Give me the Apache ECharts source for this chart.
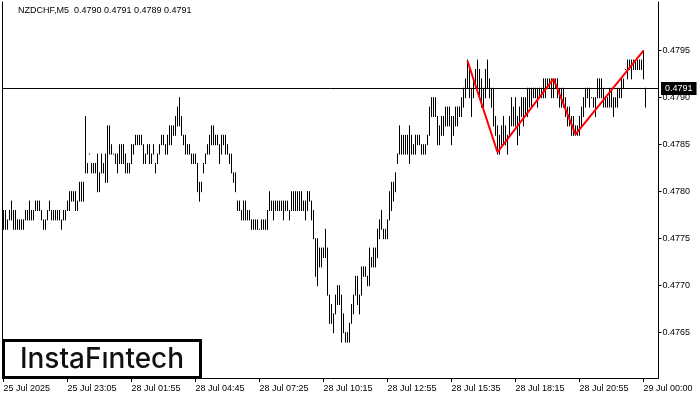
<!DOCTYPE html>
<html><head><meta charset="utf-8">
<script src="https://cdn.jsdelivr.net/npm/echarts@6/dist/echarts.min.js"></script>
<style>html,body{margin:0;padding:0;background:#fff}#c{width:700px;height:400px}</style>
</head><body><div id="c"></div>
<script>
const symbolName = 'NZDCHF,M5';
const lastOHLC = [0.4790, 0.4791, 0.4789, 0.4791];
const lastPrice = 0.4791;
const tickLabels = ['25 Jul 2025','25 Jul 23:05','28 Jul 01:55','28 Jul 04:45','28 Jul 07:25','28 Jul 10:15','28 Jul 12:55','28 Jul 15:35','28 Jul 18:15','28 Jul 20:55','29 Jul 00:00'];
const tickStep = 32;
const slotCount = 328;
const priceTicks = [0.4765, 0.4770, 0.4775, 0.4780, 0.4785, 0.4790, 0.4795];
const axisMin = 0.476018, axisMax = 0.480018;

const barLow = [
0.4776,0.4776,0.4776,0.4777,0.4777,0.4776,0.4776,0.4776,0.4776,0.4776,
0.4776,0.4777,0.4777,0.4777,0.4777,0.4777,0.4778,0.4778,0.4778,0.4777,
0.4776,0.4776,0.4777,0.4778,0.4777,0.4777,0.4777,0.4777,0.4777,0.4776,
0.4777,0.4777,0.4778,0.4778,0.4779,0.4779,0.4778,0.4778,0.4779,0.4779,
0.4779,
0.4782,0.4782,0.4784,0.4782,0.4782,0.4782,0.4780,0.4780,0.4782,0.4782,
0.4781,0.4781,0.4784,0.4784,0.4784,0.4783,0.4782,0.4783,0.4783,0.4783,
0.4782,0.4782,0.4782,0.4783,0.4784,0.4785,0.4785,0.4785,0.4785,0.4783,
0.4783,0.4784,0.4783,0.4783,0.4784,0.4782,0.4783,0.4784,0.4785,0.4785,
0.4784,0.4784,0.4785,0.4785,0.4786,0.4786,0.4787,0.4787,0.4786,0.4785,
0.4784,0.4784,0.4784,0.4783,0.4783,0.4783,0.4780,0.4779,0.4780,0.4782,
0.4783,0.4784,0.4784,0.4785,0.4785,0.4785,0.4785,0.4783,0.4784,0.4785,
0.4784,0.4784,0.4783,0.4782,0.4781,0.4780,0.4778,0.4778,0.4777,0.4777,
0.4777,0.4777,0.4777,0.4776,0.4776,0.4776,0.4776,0.4776,0.4776,0.4776,
0.4776,0.4776,0.4778,0.4778,0.4777,0.4778,0.4778,0.4778,0.4778,0.4777,
0.4778,0.4778,0.4777,0.4778,0.4778,0.4778,0.4778,0.4778,0.4778,0.4778,
0.4777,0.4778,0.4779,0.4777,0.4775,0.4771,0.4770,0.4772,0.4772,0.4773,
0.4773,0.4769,0.4766,0.4766,0.4765,0.4767,0.4768,0.4768,0.4764,0.4765,
0.4764,0.4764,0.4764,0.4766,0.4767,0.4769,0.4768,0.4767,0.4769,0.4771,
0.4771,0.4770,0.4770,0.4772,0.4772,0.4772,0.4773,0.4775,0.4776,0.4775,
0.4775,0.4775,0.4777,0.4778,0.4779,0.4780,0.4783,0.4784,0.4784,0.4784,
0.4784,0.4784,0.4783,0.4784,0.4784,0.4784,0.4785,0.4785,0.4784,0.4784,
0.4784,0.4785,0.4786,0.4788,0.4788,0.4788,0.4785,0.4785,0.4786,0.4786,
0.4787,0.4787,0.4787,0.4785,0.4786,0.4787,0.4787,0.4788,0.4788,0.4789,
0.4790,0.4791,0.4790,0.4788,0.4790,0.4791,0.4791,0.4790,0.4789,0.4789,
0.4790,0.4791,0.4790,0.4789,0.4787,0.4786,0.4784,0.4784,0.4785,0.4785,
0.4785,0.4784,0.4786,0.4787,0.4787,0.4787,0.4785,0.4786,0.4788,0.4787,
0.4788,0.4788,0.4789,0.4789,0.4790,0.4790,0.4789,0.4790,0.4790,0.4790,
0.4790,0.4791,0.4791,0.4790,0.4790,0.4791,0.4790,0.4789,0.4789,0.4789,
0.4788,0.4787,0.4787,0.4786,0.4786,0.4786,0.4786,0.4786,0.4787,0.4788,
0.4789,0.4790,0.4789,0.4790,0.4789,0.4788,0.4790,0.4790,0.4790,0.4789,
0.4789,0.4789,0.4789,0.4789,0.4788,0.4789,0.4789,0.4790,0.4790,0.4791,
0.4793,0.4792,0.4793,0.4792,0.4793,0.4793,0.4793,0.4793,0.4793,0.4792,
0.4789
];
const barHigh = [
0.4778,0.4778,0.4777,0.4778,0.4779,0.4778,0.4778,0.4777,0.4777,0.4777,
0.4777,0.4778,0.4778,0.4779,0.4778,0.4778,0.4779,0.4779,0.4779,0.4778,
0.4777,0.4777,0.4778,0.4779,0.4778,0.4778,0.4778,0.4778,0.4778,0.4777,
0.4778,0.4778,0.4779,0.4780,0.4780,0.4780,0.4780,0.4779,0.4781,0.4781,
0.4781,
0.4788,0.4783,0.4784,0.4783,0.4783,0.4783,0.4784,0.4782,0.4784,0.4783,
0.4784,0.4787,0.4787,0.4785,0.4784,0.4784,0.4784,0.4785,0.4785,0.4785,
0.4784,0.4783,0.4783,0.4785,0.4785,0.4786,0.4786,0.4786,0.4786,0.4785,
0.4784,0.4785,0.4785,0.4784,0.4785,0.4783,0.4784,0.4785,0.4786,0.4786,
0.4785,0.4786,0.4787,0.4787,0.4787,0.4788,0.4789,0.4790,0.4788,0.4786,
0.4786,0.4785,0.4785,0.4784,0.4784,0.4784,0.4783,0.4781,0.4781,0.4783,
0.4784,0.4785,0.4786,0.4787,0.4787,0.4786,0.4786,0.4785,0.4786,0.4786,
0.4786,0.4785,0.4784,0.4784,0.4782,0.4782,0.4779,0.4779,0.4778,0.4779,
0.4779,0.4778,0.4778,0.4777,0.4777,0.4777,0.4777,0.4776,0.4777,0.4777,
0.4777,0.4778,0.4780,0.4779,0.4779,0.4779,0.4779,0.4779,0.4779,0.4779,
0.4779,0.4779,0.4778,0.4780,0.4780,0.4780,0.4780,0.4780,0.4780,0.4779,
0.4779,0.4780,0.4780,0.4779,0.4778,0.4775,0.4775,0.4774,0.4774,0.4774,
0.4776,0.4774,0.4769,0.4768,0.4767,0.4769,0.4770,0.4770,0.4769,0.4767,
0.4765,0.4765,0.4766,0.4768,0.4769,0.4771,0.4771,0.4769,0.4772,0.4772,
0.4772,0.4771,0.4774,0.4773,0.4774,0.4774,0.4776,0.4777,0.4778,0.4776,
0.4776,0.4777,0.4780,0.4781,0.4781,0.4782,0.4784,0.4787,0.4786,0.4786,
0.4786,0.4786,0.4787,0.4786,0.4785,0.4786,0.4786,0.4786,0.4785,0.4785,
0.4785,0.4786,0.4789,0.4790,0.4790,0.4790,0.4788,0.4787,0.4788,0.4788,
0.4789,0.4789,0.4789,0.4788,0.4788,0.4789,0.4789,0.4789,0.4790,0.4791,
0.4792,0.4794,0.4793,0.4791,0.4792,0.4793,0.4794,0.4793,0.4792,0.4791,
0.4793,0.4794,0.4792,0.4791,0.4791,0.4788,0.4787,0.4786,0.4787,0.4788,
0.4787,0.4786,0.4788,0.4790,0.4789,0.4790,0.4788,0.4789,0.4790,0.4790,
0.4790,0.4791,0.4791,0.4791,0.4791,0.4791,0.4791,0.4791,0.4791,0.4792,
0.4792,0.4792,0.4792,0.4792,0.4792,0.4792,0.4792,0.4791,0.4791,0.4791,
0.4790,0.4789,0.4789,0.4788,0.4788,0.4787,0.4787,0.4788,0.4789,0.4790,
0.4791,0.4791,0.4791,0.4790,0.4790,0.4790,0.4792,0.4792,0.4792,0.4791,
0.4790,0.4790,0.4791,0.4791,0.4790,0.4790,0.4791,0.4791,0.4792,0.4792,
0.4793,0.4794,0.4794,0.4794,0.4794,0.4794,0.4794,0.4794,0.4794,0.4795,
0.4791
];
const patternIdx = [232, 247, 275, 286, 320];
const patternVal = [0.47939, 0.47842, 0.47920, 0.47861, 0.47950];

const FONT = 'Liberation Sans';
const slots = Array.from({length: slotCount}, (_, i) => String(i));
const barData = barLow.map((l, i) => [i, l, barHigh[i]]);
const patternData = patternIdx.map((x, k) => [x, patternVal[k]]);
const showTick = (i) => i % tickStep === 0;

const chart = echarts.init(document.getElementById('c'), null, {renderer: 'canvas'});
chart.setOption({
  animation: false,
  backgroundColor: '#fff',
  title: {
    text: symbolName + '  ' + lastOHLC.map(v => v.toFixed(4)).join(' '),
    left: 18, top: 6, padding: 0,
    textStyle: {fontSize: 9, fontWeight: 'normal', color: '#000', fontFamily: FONT}
  },
  grid: {left: 2.5, top: 2, width: 656, height: 376, containLabel: false},
  xAxis: {
    type: 'category', data: slots, boundaryGap: true,
    axisLine: {show: true, lineStyle: {color: '#000', width: 1}},
    axisTick: {show: true, alignWithLabel: true, interval: showTick, length: 4, lineStyle: {color: '#000'}},
    axisLabel: {
      interval: showTick, hideOverlap: false,
      formatter: (v, i) => tickLabels[i / tickStep] || '',
      align: 'left', color: '#000', fontSize: 9, fontFamily: FONT, margin: 6
    },
    splitLine: {show: false}
  },
  yAxis: [{
    type: 'value', position: 'right', min: axisMin, max: axisMax,
    axisLine: {show: true, lineStyle: {color: '#000'}},
    axisTick: {show: true, customValues: priceTicks, length: 3, lineStyle: {color: '#000'}},
    axisLabel: {customValues: priceTicks, formatter: v => v.toFixed(4), color: '#000', fontSize: 9, fontFamily: FONT, margin: 4},
    splitLine: {show: false}
  }, {
    type: 'value', position: 'left', min: axisMin, max: axisMax,
    axisLine: {show: true, lineStyle: {color: '#000'}},
    axisTick: {show: false}, axisLabel: {show: false}, splitLine: {show: false}
  }],
  series: [{
    type: 'custom',
    data: barData,
    encode: {x: 0, y: [1, 2]},
    z: 2,
    renderItem: (params, api) => {
      const lo = api.coord([api.value(0), api.value(1)]);
      const hi = api.coord([api.value(0), api.value(2)]);
      return {type: 'line', shape: {x1: lo[0], y1: lo[1] + 0.5, x2: hi[0], y2: hi[1] - 0.5},
              style: {stroke: '#000', lineWidth: 1}};
    }
  }, {
    type: 'custom',
    data: [[0, lastPrice]],
    encode: {x: 0, y: 1},
    z: 3, clip: false, silent: true,
    renderItem: (params, api) => {
      const cs = params.coordSys;
      const y = Math.round(api.coord([api.value(0), api.value(1)])[1]) + 0.5;
      return {type: 'group', children: [
        {type: 'line', shape: {x1: cs.x, y1: y, x2: cs.x + cs.width, y2: y}, style: {stroke: '#000', lineWidth: 1}},
        {type: 'text', x: cs.x + cs.width + 2.5, y: y,
         style: {text: api.value(1).toFixed(4), fill: '#fff', backgroundColor: '#000', padding: [2, 4, 2, 4],
                 fontSize: 9, fontFamily: FONT, align: 'left', verticalAlign: 'middle'}}
      ]};
    }
  }, {
    type: 'line',
    data: patternData,
    symbol: 'none', z: 5,
    lineStyle: {color: '#ff0000', width: 2},
    itemStyle: {color: '#ff0000'}
  }],
  graphic: [{
    type: 'rect', z: 100,
    shape: {x: 3.5, y: 340.5, width: 197, height: 37},
    style: {fill: '#fff', stroke: '#000', lineWidth: 3}
  }, {
    type: 'text', z: 101, x: 102, y: 360,
    style: {text: 'InstaFıntech', fontSize: 28, fontWeight: 500, fontFamily: 'Inter', fill: '#111', align: 'center', verticalAlign: 'middle'}
  }]
});
</script>
</body></html>
